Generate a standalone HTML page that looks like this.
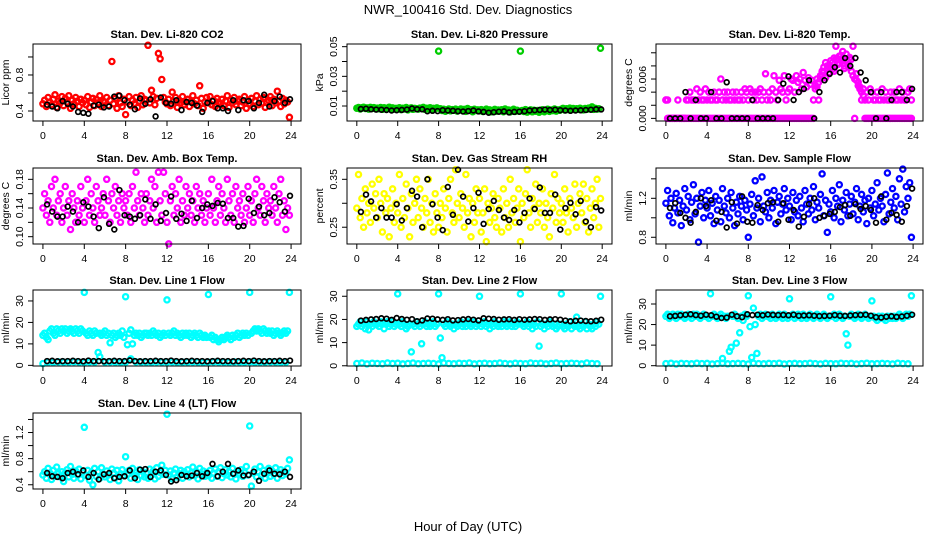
<!DOCTYPE html>
<html><head><meta charset="utf-8"><title>NWR_100416 Std. Dev. Diagnostics</title>
<style>
html,body{margin:0;padding:0;background:#fff;}
svg{display:block;font-family:"Liberation Sans",sans-serif;}
</style></head>
<body>
<svg id="chart" width="936" height="540" viewBox="0 0 936 540" xmlns="http://www.w3.org/2000/svg">
<text x="468" y="14" text-anchor="middle" font-size="13">NWR_100416  Std. Dev. Diagnostics</text>
<text x="468" y="531" text-anchor="middle" font-size="13">Hour of Day (UTC)</text>
<g id="panels"></g>
</svg>
<script>
// ---- data ----
const xTicks = [0,4,8,12,16,20,24];
const xTickLabels = ["0","4","8","12","16","20","24"];

const co2Vals = [.48,.52,.45,.55,.50,.47,.53,.58,.44,.51,.49,.56,.46,.54,.50,.57,.43,.52,.48,.55,.51,.45,.53,.49,.52,.47,.56,.44,.50,.54,.46,.53,.49,.57,.45,.51,.50,.55,.46,.52,.95,.48,.54,.43,.57,.49,.45,.53,.36,.50,.56,.46,.52,.48,.55,.44,.51,.57,.47,.53,.52,1.13,.49,.63,.56,.47,.54,1.04,.98,.75,.55,.50,.48,.53,.46,.61,.51,.55,.44,.52,.49,.56,.47,.50,.53,.45,.51,.57,.48,.52,.46,.68,.54,.43,.50,.55,.49,.56,.47,.52,.45,.54,.50,.48,.53,.46,.51,.57,.44,.52,.49,.55,.47,.51,.53,.46,.50,.56,.43,.52,.48,.54,.45,.51,.57,.47,.53,.49,.55,.44,.50,.52,.56,.46,.53,.49,.62,.51,.45,.54,.48,.52,.50,.33];
const co2Black = [.47,.45,.43,.51,.48,.45,.39,.38,.37,.46,.47,.44,.45,.56,.57,.52,.47,.42,.54,.48,.53,.34,.55,.49,.48,.52,.41,.50,.49,.46,.39,.49,.51,.43,.43,.40,.52,.41,.52,.51,.43,.49,.58,.45,.51,.56,.49,.53];

const presVals = [.0085,.0090,.0080,.0088,.0092,.0083,.0087,.0079,.0091,.0084,.0089,.0082,.0086,.0081,.0090,.0078,.0088,.0083,.0085,.0092,.0080,.0087,.0079,.0084,.0082,.0088,.0076,.0085,.0080,.0090,.0074,.0083,.0087,.0078,.0084,.0081,.0079,.0086,.0083,.0091,.0077,.0085,.0080,.0088,.0076,.0084,.0081,.0087,.047,.0082,.0070,.0078,.0065,.0074,.0080,.0068,.0076,.0071,.0079,.0066,.0073,.0080,.0069,.0077,.0064,.0083,.0071,.0075,.0062,.0078,.0070,.0074,.0068,.0076,.0063,.0072,.0079,.0066,.0074,.0061,.0070,.0077,.0065,.0073,.0069,.0075,.0062,.0080,.0067,.0073,.0060,.0071,.0078,.0064,.0072,.0066,.047,.0070,.0063,.0076,.0059,.0068,.0074,.0061,.0072,.0065,.0070,.0058,.0067,.0075,.0062,.0071,.0078,.0064,.0073,.0069,.0080,.0066,.0074,.0071,.0078,.0084,.0073,.0081,.0076,.0086,.0079,.0083,.0075,.0082,.0077,.0085,.0080,.0074,.0083,.0078,.0086,.0081,.0094,.0077,.0084,.0079,.0082,.049];
const presBlack = [.0080,.0082,.0078,.0076,.0075,.0073,.0070,.0072,.0074,.0076,.0083,.0078,.0078,.0065,.0068,.0066,.0072,.0070,.0068,.0065,.0063,.0066,.0070,.0064,.0060,.0055,.0058,.0062,.0064,.0057,.0060,.0062,.0065,.0070,.0072,.0074,.0076,.0073,.0075,.0072,.0070,.0068,.0070,.0071,.0073,.0075,.0078,.0077];

const tempLow = [.0028,0,0,0,0,0,0,0,0,0,0,0, 0,0,0,0,0,0,0,0,0,0,0,0, 0,0,0,0,0,0,0,0,0,0,0,0, 0,0,0,0,0,0,0,0,0,0,0,0, 0,0,0,0,0,0,0,0,0,0,0,0, 0,0,0,0,0,0,0,0,0,0,0,0, 0,0,0,0,0,0,0,0,0,0,0,0, 0,0,0,.005,.0048,.0055,.006,.0065,.007,.0062,.0075,.0068, .0078,.0085,.0072,.009,.0082,.0095,.0088,.0092,.0080,.0098,.0086,.0078, .0072,.0065,0,.0058,.0050,.0045,.004,.0035,0,0,0,0, 0,0,0,0,0,0,0,0,0,0,0,0, 0,0,0,0,0,0,0,0,0,0,0,0];
const tempHigh = [.0028,.0028,0,0,0,0,0,.0028,0,0,0,0, .0028,.0028,.004,.0028,.0028,.0028,.0045,.0028,.004,.0028,.0028,.0045, .0028,.004,.0028,.0028,.004,.0028,.0028,.004,.006,.0028,.004,.0028, .004,.0028,.0028,.004,.0028,.004,.0028,.0028,.004,.0028,.0045,.004, .0028,.0045,.004,.0028,.004,.0028,.004,.0045,.0028,.004,.0068,.0028, .004,.0028,.0045,.0065,.004,.0028,.0058,.0045,.004,.0065,.0028,.004, .0045,.006,.0058,.004,.0065,.0055,.006,.0045,.007,.0058,.0048,.0062, .0052,.0058,.0028,.0045,.006,.0028,.0065,.0072,.0078,.0085,.0080,.0070, .0088,.0075,.0092,.0110,.0090,.0084,.0096,.0102,.0076,.0088,.0082,.0093, .0090,.0110,.0060,.0068,.0055,.0048,.0028,.0045,.0028,.004,.0028,.0045, .004,.0028,.0028,.004,.0028,.0028,.0045,.0028,.004,.0028,.0028,.004, .0028,.004,.0028,.0028,.0045,.0028,.004,.0028,.0028,.004,.0045,.0028];
const tempBlack = [0,0,0,.004,0,.0028,0,0,.004,0,0,.0055,0,0,0,0,.0028,0,0,0,0,.0028,.0053,.0064,.0028,.004,.0045,.0058,0,.004,.0058,.0068,.0078,.0070,.0092,.0080,.0092,.0070,.0058,.004,0,.004,0,.0028,.004,.004,.0028,.0045];

const ambVals = [.14,.16,.13,.15,.12,.17,.14,.18,.13,.15,.16,.12,.14,.17,.13,.15,.11,.16,.14,.12,.15,.13,.17,.14,.12,.15,.18,.13,.16,.14,.12,.17,.15,.13,.14,.16,.13,.18,.15,.12,.16,.14,.17,.13,.15,.12,.16,.14,.15,.13,.16,.12,.17,.14,.19,.15,.13,.16,.14,.12,.16,.13,.15,.18,.14,.17,.12,.19,.15,.13,.19,.16,.12,.09,.15,.17,.13,.16,.14,.18,.12,.15,.13,.17,.14,.16,.13,.15,.12,.17,.14,.16,.13,.15,.12,.14,.16,.13,.18,.14,.12,.15,.17,.13,.16,.14,.12,.18,.15,.13,.16,.12,.17,.14,.15,.13,.16,.12,.14,.17,.13,.15,.12,.16,.18,.14,.13,.17,.15,.12,.16,.14,.15,.13,.17,.14,.12,.16,.18,.13,.15,.11,.14,.13];
const ambBlack = [.145,.135,.128,.128,.142,.135,.12,.148,.142,.128,.112,.155,.118,.110,.165,.130,.128,.125,.13,.152,.125,.145,.122,.133,.156,.125,.132,.122,.15,.126,.14,.145,.143,.147,.146,.126,.126,.114,.115,.153,.133,.142,.13,.133,.155,.148,.135,.157];

const rhVals = [.29,.36,.27,.31,.25,.33,.28,.30,.26,.34,.29,.32,.27,.35,.30,.24,.32,.28,.31,.23,.29,.33,.26,.30,.28,.36,.25,.31,.27,.34,.29,.23,.32,.26,.30,.35,.27,.33,.29,.25,.31,.28,.35,.26,.30,.24,.32,.28,.25,.30,.27,.33,.29,.24,.31,.35,.28,.26,.37,.30,.27,.32,.29,.25,.36,.28,.31,.23,.30,.26,.33,.28,.31,.24,.28,.33,.22,.30,.26,.29,.32,.27,.25,.31,.29,.24,.33,.27,.30,.25,.35,.28,.31,.26,.29,.33,.22,.30,.27,.32,.37,.28,.25,.31,.29,.34,.26,.30,.28,.33,.25,.30,.27,.23,.32,.29,.36,.26,.31,.28,.30,.26,.33,.28,.24,.31,.29,.27,.34,.25,.30,.32,.28,.34,.26,.31,.24,.29,.33,.27,.30,.35,.25,.31];
const rhBlack = [.282,.318,.304,.27,.29,.27,.27,.298,.264,.29,.326,.314,.25,.35,.298,.27,.244,.334,.276,.37,.314,.262,.29,.322,.257,.288,.305,.286,.27,.265,.286,.26,.28,.31,.288,.333,.28,.28,.318,.245,.29,.301,.277,.305,.262,.25,.292,.285];

const sfVals = [1.15,1.28,1.02,1.20,0.95,1.10,1.25,1.05,1.18,0.92,1.12,1.30,1.08,1.22,0.98,1.16,1.34,1.04,1.20,0.75,1.12,1.26,1.00,1.18,1.10,1.28,1.02,1.15,0.94,1.22,1.08,1.18,0.96,1.30,1.12,1.05,1.20,1.00,1.26,1.10,0.92,1.16,1.04,1.22,1.12,0.98,1.18,1.08,0.80,1.14,1.24,1.02,1.38,1.10,1.20,0.96,1.42,1.12,1.06,1.26,1.00,1.18,1.10,1.28,0.94,1.16,1.22,1.04,1.14,1.30,1.08,1.20,1.12,0.98,1.26,1.06,1.18,1.02,1.22,1.10,0.96,1.28,1.14,1.04,1.20,1.08,1.32,0.98,1.16,1.10,1.24,1.45,1.02,1.18,0.85,1.14,1.06,1.28,1.00,1.20,1.12,1.34,0.96,1.18,1.08,1.26,1.02,1.14,1.22,1.04,1.16,1.30,0.98,1.12,1.24,1.06,1.18,0.94,1.20,1.10,1.28,1.02,1.14,1.36,1.08,1.20,1.12,0.96,1.24,1.46,1.04,1.16,1.30,1.10,1.22,0.98,1.40,1.14,1.50,1.06,1.32,1.20,1.36,0.80];
const sfBlack = [1.10,1.15,1.05,1.00,0.95,1.06,1.20,1.12,1.18,0.97,1.06,0.90,1.16,0.94,1.22,0.96,0.95,1.13,1.08,1.15,1.16,0.96,1.15,0.98,1.08,0.91,1.01,1.14,1.20,1.00,1.02,1.04,1.06,1.11,1.13,1.02,1.14,1.09,1.12,1.08,0.95,1.22,0.98,1.05,1.03,0.96,1.12,1.30];

const l1Vals = [14,15,13,12,16,17,15,14,17,16,15,17,16,17,15,16,17,16,15,17,16,15,17,16,34,15,14,16,15,14,16,15,6,15,14,15,16,14,15,10.5,14,15,13,14,15,14,16,13,32,9.6,15,16.5,10,14,15,14,15,13,14,15,15,14,15,14,16,15,14,15,13,14,15,14,30.5,15,14,15,16,14,15,14,13,15,14,15,14,15,13,14,15,14,13,15,14,13,14,13,33,13,14,12,13,12,11,12,13,12,13,14,13,12,14,13,14,15,13,14,15,14,15,14,34,15,16,17,16,17,16,15,17,16,15,16,15,16,14,15,16,15,14,15,16,15,16,34];
const l1Low = [0.8,1.5,1.4,1.6,1.5,1.5,1.7,1.5,1.4,1.6,1.5,4,1.5,1.6,1.5,1.4,1.5,3,1.6,1.5,1.5,1.4,1.6,1.5,1.5,1.6,1.4,1.5,1.5,1.6,1.5,1.4,1.5,1.6,1.5,1.5,1.4,1.6,1.5,1.5,1.6,1.4,1.5,1.5,1.6,1.5,1.4,1.5];
const l1Black = [2.0,2.1,1.9,2.0,2.0,2.1,2.0,1.9,2.2,2.0,2.0,1.9,2.0,2.1,2.0,2.0,2.3,2.0,1.9,2.0,2.0,2.1,2.0,2.0,2.2,2.0,1.9,2.0,2.1,2.0,2.0,1.9,2.0,2.1,2.0,2.0,1.9,2.0,2.1,2.0,2.2,2.0,1.9,2.0,2.0,2.1,2.0,2.2];

const l2Vals = [17,18,19,17,18,16,19,15.5,18,17,19,18,18,17,19,18,16,18,19,17,18,19,17,18,31,18,17,19,18,16,17,18,6,18,17,19,18,17,9.5,18,19,17,18,17,18,19,17,18,31,12,3.5,18,17,19,18,17,18,16,18,17,18,19,17,18,17,19,18,17,18,19,17,18,30,17,18,19,17,18,16,18,17,19,18,17,18,17,19,18,17,18,19,17,18,17,19,18,31,18,17,18,19,17,18,16,18,17,19,8.5,17,18,16,18,17,19,18,17,18,16,17,18,31,17,16,18,17,19,16,18,17,21,17,16,18,17,19,16,18,17,16,18,17,19,18,30];
const l2Low = [1.0,1.2,0.8,1.1,1.0,0.9,1.2,1.0,1.1,0.8,1.0,1.2,0.9,1.0,1.1,1.0,0.8,1.2,1.0,0.9,1.1,1.0,1.2,0.8,1.0,1.1,0.9,1.0,1.2,1.0,0.8,1.1,1.0,0.9,1.2,1.0,1.1,0.8,1.0,1.2,0.9,1.0,1.1,1.0,0.8,1.2,1.0,0.9];
const l2Black = [19.5,19.8,20.0,20.2,20.5,20.3,19.8,20.6,20.2,19.9,20.1,19.2,19.6,20.4,20.3,20.0,19.8,20.1,19.6,19.7,20.0,20.2,19.9,19.6,20.5,20.3,20.2,19.9,20.0,20.1,19.8,20.1,19.9,20.0,20.2,20.1,19.8,20.0,20.1,19.9,19.5,19.2,19.4,19.5,19.3,19.2,19.4,19.9];

const l3Vals = [24,25,23,24,25,24,23,25,24,25,24,23,24,25,24,23,25,24,25,24,23,24,25,24,24,23,35,24,25,24,23,24,25,3.5,24,23,24,7,9,24,25,11,23,16,24,22,25,24,34,19,4,28,20,6,24,25,23,24,25,24,24,23,25,24,23,24,25,24,23,25,24,23,32.5,24,25,23,24,25,24,23,25,24,23,24,25,24,23,24,25,24,23,24,25,24,23,24,33.5,24,25,23,24,25,24,23,24,15.5,10,24,25,24,23,24,25,24,23,24,25,24,23,24,31.5,24,23,22,24,23,24,23,22,24,23,24,23,24,23,24,25,24,23,24,25,24,25,34];
const l3Low = [1.0,1.2,0.8,1.1,1.0,0.9,1.2,1.0,1.1,0.8,1.0,1.2,0.9,1.0,1.1,1.0,0.8,1.2,1.0,0.9,1.1,1.0,1.2,0.8,1.0,1.1,0.9,1.0,1.2,1.0,0.8,1.1,1.0,0.9,1.2,1.0,1.1,0.8,1.0,1.2,0.9,1.0,1.1,1.0,0.8,1.2,1.0,0.9];
const l3Black = [24.0,24.2,24.5,24.8,25.0,24.6,24.3,24.8,24.5,23.8,23.2,23.4,24.8,24.0,23.6,25.0,24.6,24.8,24.5,24.9,24.7,24.6,24.7,24.5,24.8,24.3,24.4,24.5,24.3,24.1,24.2,24.3,24.6,24.3,24.2,24.4,24.6,24.7,24.8,24.3,23.6,23.4,23.8,24.0,23.7,23.9,24.3,24.8];

const l4Vals = [.55,.60,.50,.65,.58,.48,.62,.53,.67,.57,.52,.60,.45,.58,.63,.52,.68,.56,.50,.61,.55,.64,.49,.59,1.28,.54,.62,.47,.58,.40,.65,.53,.60,.50,.66,.56,.52,.61,.55,.48,.64,.58,.51,.62,.46,.57,.63,.54,.83,.56,.62,.50,.65,.55,.59,.48,.63,.54,.60,.52,.58,.50,.64,.55,.61,.49,.66,.53,.59,.70,.56,.62,1.48,.55,.61,.49,.58,.64,.52,.57,.62,.50,.60,.55,.63,.52,.58,.67,.54,.60,.49,.65,.56,.61,.53,.59,.54,.62,.50,.58,.64,.53,.60,.66,.51,.57,.63,.55,.60,.52,.65,.56,.49,.61,.57,.63,.53,.59,.68,.55,1.30,.38,.58,.64,.52,.60,.68,.55,.62,.50,.57,.65,.53,.61,.56,.66,.50,.58,.63,.54,.60,.57,.65,.78];
const l4Black = [.58,.53,.52,.50,.58,.60,.56,.62,.52,.58,.48,.56,.58,.50,.52,.53,.62,.50,.63,.64,.52,.60,.62,.55,.45,.47,.55,.53,.54,.58,.53,.58,.72,.53,.60,.72,.57,.62,.54,.55,.60,.46,.57,.62,.57,.56,.60,.52];

// ---- layout (not data) ----
const colL=[33,347,656], colR=[301,612,923], rowT=[44,168,290,413], rowB=[121,244,366,489];
const panels=[
 {name:"co2",title:"Stan. Dev. Li-820 CO2",ylab:"Licor ppm",c:0,r:0,ylim:[0.289,1.144],ticks:[0.4,0.6,0.8,1.0],labs:["0.4","","0.8",""],color:"#ff0000",series:[co2Vals],black:co2Black},
 {name:"pressure",title:"Stan. Dev. Li-820 Pressure",ylab:"kPa",c:1,r:0,ylim:[-0.0001,0.0518],ticks:[0.01,0.02,0.03,0.04,0.05],labs:["0.01","","0.03","","0.05"],color:"#00cd00",series:[presVals],black:presBlack},
 {name:"li820-temp",title:"Stan. Dev. Li-820 Temp.",ylab:"degrees C",c:2,r:0,ylim:[-0.0004,0.01134],ticks:[0,0.002,0.004,0.006,0.008,0.010],labs:["0.000","","","0.006","",""],color:"#ff00ff",series:[tempLow,tempHigh],black:tempBlack},
 {name:"amb-box-temp",title:"Stan. Dev. Amb. Box Temp.",ylab:"degrees C",c:0,r:1,ylim:[0.0898,0.1958],ticks:[0.10,0.12,0.14,0.16,0.18],labs:["0.10","","0.14","","0.18"],color:"#ff00ff",series:[ambVals],black:ambBlack},
 {name:"gas-stream-rh",title:"Stan. Dev. Gas Stream RH",ylab:"percent",c:1,r:1,ylim:[0.215,0.3736],ticks:[0.25,0.30,0.35],labs:["0.25","","0.35"],color:"#ffff00",series:[rhVals],black:rhBlack},
 {name:"sample-flow",title:"Stan. Dev. Sample Flow",ylab:"ml/min",c:2,r:1,ylim:[0.731,1.511],ticks:[0.8,1.0,1.2,1.4],labs:["0.8","","1.2",""],color:"#0000ff",series:[sfVals],black:sfBlack},
 {name:"line1-flow",title:"Stan. Dev. Line 1 Flow",ylab:"ml/min",c:0,r:2,ylim:[-0.3,35.1],ticks:[0,10,20,30],labs:["0","10","20","30"],color:"#00ffff",series:[l1Vals,l1Low],black:l1Black},
 {name:"line2-flow",title:"Stan. Dev. Line 2 Flow",ylab:"ml/min",c:1,r:2,ylim:[-0.1,32.7],ticks:[0,10,20,30],labs:["0","10","20","30"],color:"#00ffff",series:[l2Vals,l2Low],black:l2Black},
 {name:"line3-flow",title:"Stan. Dev. Line 3 Flow",ylab:"ml/min",c:2,r:2,ylim:[-0.15,36.8],ticks:[0,10,20,30],labs:["0","10","20","30"],color:"#00ffff",series:[l3Vals,l3Low],black:l3Black},
 {name:"line4-flow",title:"Stan. Dev. Line 4 (LT) Flow",ylab:"ml/min",c:0,r:3,ylim:[0.335,1.499],ticks:[0.4,0.6,0.8,1.0,1.2,1.4],labs:["0.4","","0.8","","1.2",""],color:"#00ffff",series:[l4Vals],black:l4Black}
];
const NS="http://www.w3.org/2000/svg";
const root=document.getElementById("panels");
function mk(tag,attrs,parent){const e=document.createElementNS(NS,tag);for(const k in attrs)e.setAttribute(k,attrs[k]);parent.appendChild(e);return e;}
panels.forEach(p=>{
  const L=colL[p.c],R=colR[p.c],T=rowT[p.r],B=rowB[p.r];
  const xs=h=>L+(h+0.96)/25.92*(R-L);
  const ys=v=>B-(v-p.ylim[0])/(p.ylim[1]-p.ylim[0])*(B-T);
  const g=mk("g",{},root);
  
  
  const t=mk("text",{x:(L+R)/2,y:T-6,"text-anchor":"middle","font-size":"11","font-weight":"bold"},g);
  t.textContent=p.title;
  
  
  const pts=mk("g",{fill:"none"},g);
  
  
  p.series.forEach(arr=>{
    arr.forEach((v,i)=>{
      const h=i*24/arr.length;
      const c=mk("circle",{cx:xs(h).toFixed(1),cy:ys(v).toFixed(1),r:"2.6",stroke:p.color,"stroke-width":"2.3"},pts);
      
      
    });
  });
  p.black.forEach((v,i)=>{
    const h=0.4+i*23.5/(p.black.length-1);
    const c=mk("circle",{cx:xs(h).toFixed(1),cy:ys(v).toFixed(1),r:"2.4",stroke:"#000","stroke-width":"1.7"},pts);
    
    
  });
  const box=mk("rect",{x:L,y:T,width:R-L,height:B-T,fill:"none",stroke:"#000","stroke-width":"1"},g);
  
  
  const xa=mk("g",{stroke:"#000","stroke-width":"1"},g);
  
  
  xTicks.forEach((tv,i)=>{
    const x=xs(tv);
    mk("line",{x1:x,y1:B,x2:x,y2:B+5},xa);
    const tl=mk("text",{x:x,y:B+18,"text-anchor":"middle","font-size":"10.5",stroke:"none",fill:"#000"},xa);
    tl.textContent=xTickLabels[i];
    
    
  });
  const ya=mk("g",{stroke:"#000","stroke-width":"1"},g);
  
  
  p.ticks.forEach((tv,i)=>{
    const y=ys(tv);
    mk("line",{x1:L-5,y1:y,x2:L,y2:y},ya);
    if(p.labs[i]){
      const tl=mk("text",{x:L-10,y:y,"text-anchor":"middle","font-size":"10.5",stroke:"none",fill:"#000",transform:`rotate(-90 ${L-10} ${y})`},ya);
      tl.textContent=p.labs[i];
      
      
    }
  });
  const yl=mk("text",{x:L-24,y:(T+B)/2,"text-anchor":"middle","font-size":"10.5",transform:`rotate(-90 ${L-24} ${(T+B)/2})`},g);
  yl.textContent=p.ylab;
  
  
});
</script>
</body></html>
